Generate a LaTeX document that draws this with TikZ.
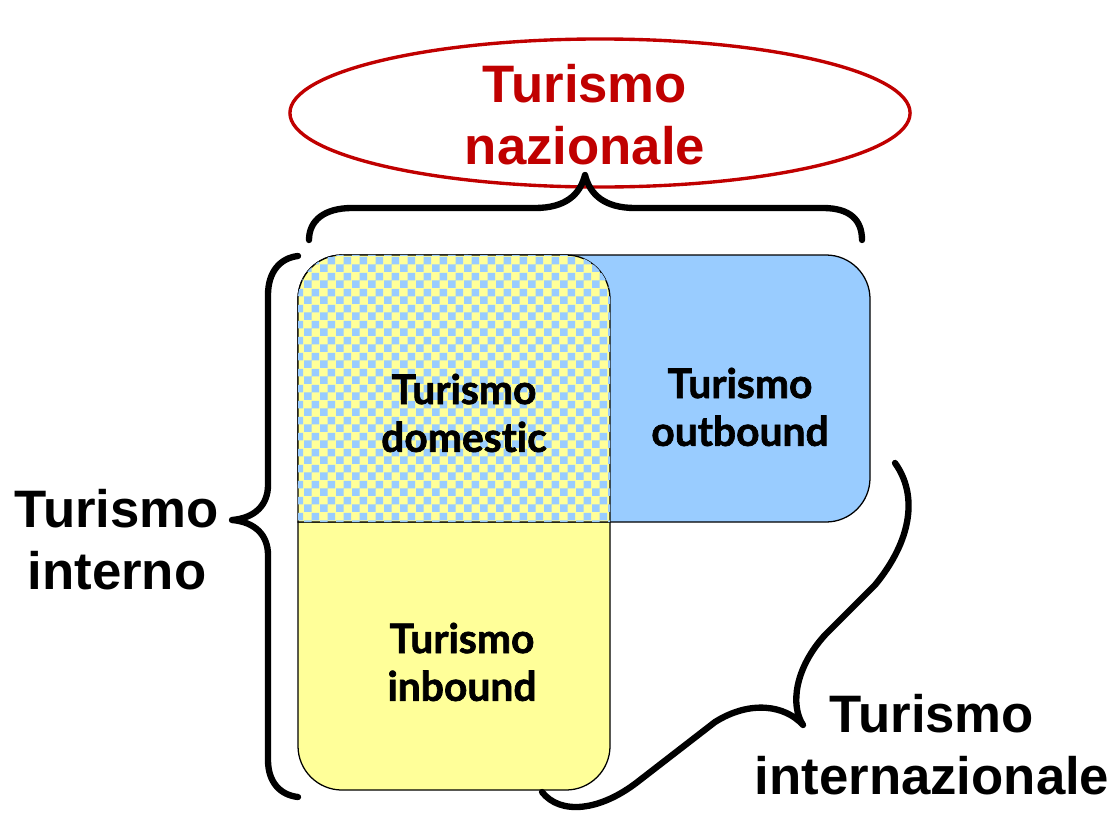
\documentclass[tikz,border=0pt]{standalone}
\usepackage{fontspec}
\usetikzlibrary{patterns}
\newfontfamily\arialfam{Liberation Sans}
\newfontfamily\gillfam{Lato}[Ligatures={NoCommon,NoDiscretionary}, BoldFeatures={FakeBold=1.6}]
\definecolor{natred}{HTML}{C00000}
\definecolor{boxblue}{HTML}{99CCFF}
\definecolor{boxyellow}{HTML}{FFFF99}
\tikzset{
  outerlabel/.style={align=center, inner sep=0pt, font=\arialfam\bfseries\fontsize{37.5}{44}\selectfont},
  innerlabel/.style={align=center, inner sep=0pt, font=\gillfam\bfseries\fontsize{29}{34}\selectfont},
  bracestyle/.style={line width=4.5pt, line cap=round, line join=round},
  boxline/.style={draw=black, line width=0.9pt}
}
\begin{document}
\begin{tikzpicture}[x=0.025cm, y=-0.025cm]
\useasboundingbox (0,0) rectangle (1117,816);
% boxes
\draw[boxline, fill=boxblue, rounded corners=1.1cm] (298,255) rectangle (870,522);
\draw[boxline, fill=boxyellow] (298,522) -- (298,746) arc[start angle=180, end angle=270, radius=1.1cm] -- (566,790) arc[start angle=270, end angle=360, radius=1.1cm] -- (610,522) -- cycle;
\draw[boxline, fill=boxyellow, postaction={pattern=checkerboard, pattern color=boxblue}] (298,522) -- (298,299) arc[start angle=180, end angle=90, radius=1.1cm] -- (566,255) arc[start angle=90, end angle=0, radius=1.1cm] -- (610,522) -- cycle;
% ellipse
\draw[natred, line width=2.4pt] (600,113) ellipse[x radius=7.75cm, y radius=1.85cm];
% braces
\draw[bracestyle] (309,240) .. controls (309,220) and (325,208) .. (352,208) -- (535,208) .. controls (565,208) and (580,195) .. (585,175)
  .. controls (590,195) and (605,208) .. (635,208) -- (823,208) .. controls (850,208) and (862,220) .. (862,240);
\draw[bracestyle] (298,256) .. controls (280,258) and (268,272) .. (268,295) -- (268,485) .. controls (268,505) and (255,518) .. (232,520)
  .. controls (255,522) and (268,535) .. (268,555) -- (268,760) .. controls (268,782) and (280,795) .. (298,797);
\draw[bracestyle] (895,463) .. controls (918,495) and (912,540) .. (875,585) -- (825,635) .. controls (795,668) and (790,705) .. (803,725)
  .. controls (785,705) and (750,700) .. (715,722) -- (640,780) .. controls (600,812) and (560,815) .. (542,792);
% labels
\node[outerlabel, text=natred] (naz) at (585,115) {Turismo\\nazionale};
\node[outerlabel] (int) at (117,540) {Turismo\\interno};
\node[outerlabel] (intz) at (932,745) {Turismo\\internazionale};
\node[innerlabel] (dom) at (464,413) {Turismo\\domestic};
\node[innerlabel] (out) at (740,407) {Turismo\\outbound};
\node[innerlabel] (inb) at (462,662) {Turismo\\inbound};
\end{tikzpicture}
\end{document}
